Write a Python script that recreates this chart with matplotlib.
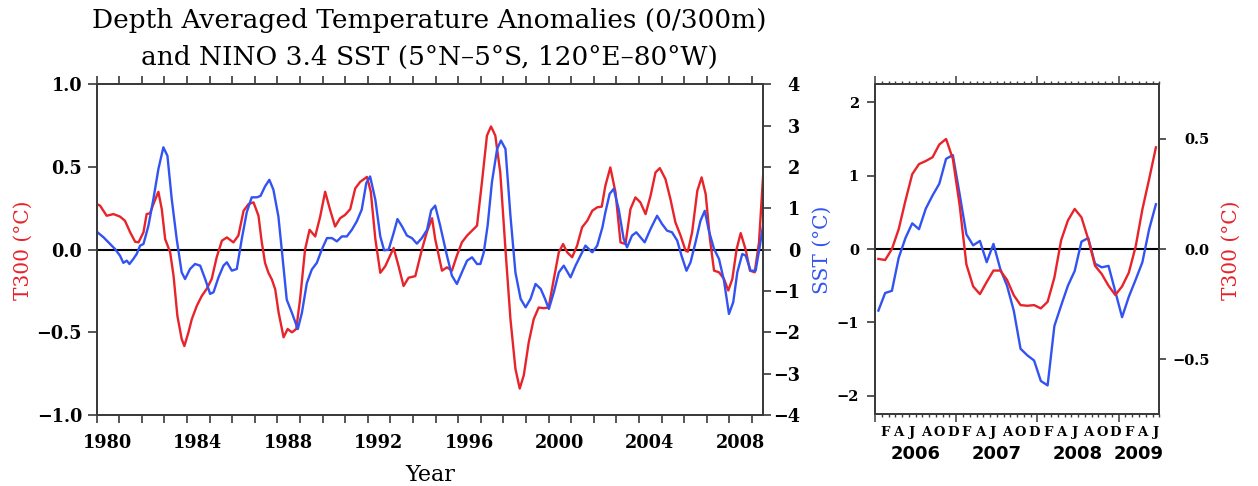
import numpy as np
import matplotlib
matplotlib.use("Agg")
import matplotlib.pyplot as plt

# cores das curvas
vermelho = "#e8232a"
azul = "#3253f2"
moldura = "#3a3a3a"

# ---------------- dados do painel longo (1980-2009) ----------------
anos_t300 = [1980.00, 1980.15, 1980.44, 1980.74, 1981.03, 1981.25, 1981.48, 1981.70, 1981.85,
             1982.07, 1982.21, 1982.36, 1982.51, 1982.73, 1982.88, 1983.03, 1983.25, 1983.40,
             1983.57, 1983.76, 1983.88, 1984.06, 1984.21, 1984.43, 1984.65, 1984.87, 1985.09,
             1985.31, 1985.54, 1985.76, 1986.05, 1986.27, 1986.50, 1986.72, 1986.94, 1987.16,
             1987.30, 1987.45, 1987.60, 1987.75, 1987.90, 1988.05, 1988.27, 1988.45, 1988.64,
             1988.83, 1989.00, 1989.22, 1989.42, 1989.67, 1989.89, 1990.11, 1990.33, 1990.55,
             1990.77, 1990.99, 1991.22, 1991.44, 1991.66, 1991.96, 1992.13, 1992.33, 1992.55,
             1992.77, 1993.14, 1993.36, 1993.58, 1993.80, 1994.10, 1994.39, 1994.62, 1994.84,
             1994.98, 1995.28, 1995.50, 1995.72, 1995.94, 1996.16, 1996.39, 1996.61, 1996.83,
             1997.05, 1997.27, 1997.45, 1997.64, 1997.86, 1998.09, 1998.31, 1998.53, 1998.72,
             1998.90, 1999.12, 1999.34, 1999.56, 1999.78, 2000.00, 2000.23, 2000.45, 2000.64,
             2000.82, 2001.04, 2001.26, 2001.48, 2001.71, 2001.93, 2002.15, 2002.35, 2002.51,
             2002.73, 2002.96, 2003.18, 2003.40, 2003.62, 2003.84, 2004.06, 2004.29, 2004.51,
             2004.73, 2004.92, 2005.17, 2005.39, 2005.61, 2005.84, 2006.06, 2006.16, 2006.35,
             2006.58, 2006.77, 2006.95, 2007.14, 2007.32, 2007.54, 2007.76, 2007.95, 2008.13,
             2008.32, 2008.50, 2008.72, 2008.91, 2009.12, 2009.31, 2009.50]
t300 = [0.276, 0.266, 0.205, 0.215, 0.200, 0.175, 0.105, 0.048, 0.044,
        0.105, 0.215, 0.220, 0.276, 0.350, 0.245, 0.064, -0.016, -0.157,
        -0.400, -0.540, -0.583, -0.500, -0.420, -0.340, -0.280, -0.237, -0.177,
        -0.046, 0.054, 0.074, 0.044, 0.085, 0.235, 0.276, 0.286, 0.205,
        0.050, -0.080, -0.140, -0.180, -0.240, -0.380, -0.530, -0.480, -0.500,
        -0.480, -0.300, 0.000, 0.120, 0.080, 0.200, 0.350, 0.240, 0.140,
        0.190, 0.210, 0.245, 0.370, 0.410, 0.440, 0.350, 0.065, -0.140,
        -0.100, 0.010, -0.100, -0.220, -0.170, -0.160, 0.000, 0.110, 0.190,
        0.064, -0.127, -0.107, -0.127, -0.036, 0.044, 0.085, 0.115, 0.145,
        0.410, 0.690, 0.745, 0.690, 0.467, 0.000, -0.420, -0.720, -0.840,
        -0.760, -0.560, -0.420, -0.350, -0.354, -0.350, -0.177, -0.016, 0.034,
        -0.016, -0.046, 0.024, 0.135, 0.175, 0.235, 0.256, 0.260, 0.386,
        0.497, 0.346, 0.044, 0.034, 0.245, 0.316, 0.286, 0.215, 0.326,
        0.467, 0.493, 0.427, 0.306, 0.165, 0.085, -0.006, -0.012, 0.105,
        0.356, 0.437, 0.336, 0.064, -0.127, -0.137, -0.177, -0.247, -0.177,
        0.004, 0.100, 0.000, -0.127, -0.137, 0.044, 0.467]

anos_sst = [1980.00, 1980.30, 1980.59, 1980.81, 1981.03, 1981.18, 1981.33, 1981.45, 1981.62,
            1981.77, 1981.92, 1982.07, 1982.29, 1982.51, 1982.73, 1982.95, 1983.13, 1983.32,
            1983.54, 1983.76, 1983.91, 1984.13, 1984.35, 1984.58, 1984.80, 1985.02, 1985.17,
            1985.39, 1985.61, 1985.76, 1985.98, 1986.20, 1986.42, 1986.64, 1986.86, 1987.09,
            1987.25, 1987.45, 1987.64, 1987.82, 1988.04, 1988.19, 1988.41, 1988.64, 1988.90,
            1989.08, 1989.30, 1989.52, 1989.74, 1989.96, 1990.19, 1990.41, 1990.63, 1990.85,
            1991.07, 1991.29, 1991.51, 1991.73, 1991.93, 1992.10, 1992.33, 1992.55, 1992.72,
            1992.92, 1993.14, 1993.31, 1993.51, 1993.73, 1993.95, 1994.17, 1994.39, 1994.62,
            1994.80, 1994.98, 1995.20, 1995.50, 1995.72, 1995.94, 1996.16, 1996.39, 1996.61,
            1996.83, 1996.98, 1997.13, 1997.30, 1997.49, 1997.72, 1997.89, 1998.09, 1998.31,
            1998.53, 1998.76, 1998.98, 1999.20, 1999.42, 1999.65, 1999.84, 2000.01, 2000.23,
            2000.45, 2000.67, 2000.97, 2001.19, 2001.41, 2001.63, 2001.93, 2002.15, 2002.38,
            2002.51, 2002.70, 2002.88, 2003.10, 2003.32, 2003.47, 2003.69, 2003.88, 2004.06,
            2004.25, 2004.51, 2004.80, 2005.02, 2005.24, 2005.46, 2005.69, 2005.88, 2006.10,
            2006.28, 2006.50, 2006.72, 2006.91, 2007.09, 2007.32, 2007.54, 2007.76, 2007.98,
            2008.17, 2008.35, 2008.57, 2008.72, 2008.94, 2009.16, 2009.35, 2009.50]
sst = [0.435, 0.300, 0.137, 0.016, -0.145, -0.320, -0.266, -0.347, -0.226,
       -0.105, 0.097, 0.137, 0.580, 1.226, 1.950, 2.476, 2.270, 1.226,
       0.258, -0.548, -0.710, -0.468, -0.347, -0.387, -0.710, -1.070, -1.030,
       -0.670, -0.387, -0.306, -0.508, -0.468, 0.258, 0.903, 1.266, 1.266,
       1.300, 1.530, 1.690, 1.450, 0.806, 0.000, -1.210, -1.530, -1.920,
       -1.530, -0.806, -0.480, -0.320, 0.000, 0.280, 0.280, 0.200, 0.320,
       0.320, 0.480, 0.685, 0.970, 1.610, 1.770, 1.210, 0.320, -0.016,
       0.000, 0.400, 0.740, 0.565, 0.340, 0.280, 0.145, 0.280, 0.480,
       0.950, 1.065, 0.580, -0.145, -0.630, -0.830, -0.550, -0.266, -0.185,
       -0.347, -0.347, -0.065, 0.580, 1.630, 2.435, 2.640, 2.435, 0.820,
       -0.550, -1.190, -1.395, -1.190, -0.830, -0.950, -1.190, -1.435, -1.030,
       -0.550, -0.387, -0.670, -0.387, -0.145, 0.097, -0.065, 0.097, 0.540,
       0.900, 1.350, 1.470, 0.980, 0.260, 0.056, 0.340, 0.420, 0.300,
       0.177, 0.500, 0.820, 0.620, 0.460, 0.420, 0.220, -0.145, -0.510,
       -0.306, 0.177, 0.700, 0.940, 0.460, 0.016, -0.226, -0.750, -1.556,
       -1.270, -0.548, -0.105, -0.145, -0.510, -0.510, 0.097, 0.620]

rotulos_anos = ["1980", "1984", "1988", "1992", "1996", "2000", "2004", "2008"]

# ---------------- dados do painel mensal (jan/2006 - jun/2009) ----------------
sst_mensal = [-0.84, -0.60, -0.57, -0.12, 0.15, 0.35, 0.27, 0.55, 0.73, 0.89, 1.23, 1.28,
              0.75, 0.20, 0.05, 0.11, -0.18, 0.07, -0.27, -0.50, -0.84, -1.36, -1.45, -1.52,
              -1.80, -1.86, -1.05, -0.77, -0.50, -0.30, 0.10, 0.15, -0.20, -0.25, -0.23, -0.58,
              -0.93, -0.65, -0.42, -0.18, 0.27, 0.61]
t300_mensal = [-0.045, -0.050, 0.000, 0.090, 0.220, 0.340, 0.386, 0.400, 0.417, 0.475, 0.500, 0.410,
               0.200, -0.070, -0.170, -0.205, -0.150, -0.098, -0.098, -0.140, -0.210, -0.255, -0.258, -0.255,
               -0.270, -0.240, -0.130, 0.040, 0.130, 0.182, 0.144, 0.045, -0.076, -0.114, -0.167, -0.209,
               -0.170, -0.107, 0.010, 0.180, 0.318, 0.462]
letras_meses = ["F", "A", "J", "A", "O", "D", "F", "A", "J", "A", "O", "D",
                "F", "A", "J", "A", "O", "D", "F", "A", "J"]
rotulos_mensal = ["2006", "2007", "2008", "2009"]
pos_rotulos_mensal = [6, 18, 30, 39]

meses = np.arange(len(sst_mensal)) + 0.5


fig = plt.figure(figsize=(12.58, 4.86), dpi=100)
W, H = 1258, 486

def caixa(x0, x1, y0, y1):
    # converte pixels (origem em cima) em fracao da figura
    return [x0 / W, 1 - y1 / H, (x1 - x0) / W, (y1 - y0) / H]

fonte_num = dict(family="DejaVu Serif", weight="bold")


# ================= PAINEL 1 =================
ax1 = fig.add_axes(caixa(96.7, 763.3, 84.3, 415))
ax1.axhline(0, color="black", lw=1.5, zorder=1)
ax1.plot(anos_t300, t300, color=vermelho, lw=1.7, zorder=3)
ax1.set_xlim(1980, 2009.5)
ax1.set_ylim(-1, 1)

ax1b = ax1.twinx()
ax1b.plot(anos_sst, sst, color=azul, lw=1.7)
ax1b.set_ylim(-4, 4)

# ticks em todo ano (sem rotulo); rotulos ficam num tick "minor" sem traco, um pouco a direita
ax1.set_xticks(range(1980, 2010))
ax1.set_xticklabels([])
ax1.set_xticks([int(a) + 0.478 for a in rotulos_anos], minor=True)
ax1.set_xticklabels(rotulos_anos, minor=True, fontsize=12.7, **fonte_num)

ax1.set_yticks([-1, -0.5, 0, 0.5, 1])
ax1.set_yticklabels(["\u22121.0", "\u22120.5", "0.0", "0.5", "1.0"], fontsize=12.7, **fonte_num)
ax1b.set_yticks(range(-4, 5))
ax1b.set_yticklabels([str(v).replace("-", "\u2212") for v in range(-4, 5)], fontsize=12.7, **fonte_num)

ax1.tick_params(axis="x", which="major", top=True, direction="out", length=5.5, width=1.2, color=moldura)
ax1.tick_params(axis="x", which="minor", top=False, length=0, pad=13.5)
ax1.tick_params(axis="y", direction="out", length=6.5, width=1.2, pad=4, color=moldura)
ax1b.tick_params(axis="y", direction="out", length=5.5, width=1.2, pad=21, color=moldura)
for r in ax1b.get_yticklabels():
    r.set_horizontalalignment("right")

for a in (ax1, ax1b):
    for s in a.spines.values():
        s.set_color(moldura)
        s.set_linewidth(1.3)


# ================= PAINEL 2 =================
ax2 = fig.add_axes(caixa(875, 1159.3, 84, 414))
ax2.axhline(0, color="black", lw=1.5, zorder=1)
ax2.plot(meses, sst_mensal, color=azul, lw=1.7, zorder=3)
ax2.set_xlim(0, 42)
ax2.set_ylim(-2.25, 2.25)

ax2b = ax2.twinx()
ax2b.plot(meses, t300_mensal, color=vermelho, lw=1.7)
ax2b.set_ylim(-0.75, 0.75)

ax2.set_yticks([-2, -1, 0, 1, 2])
ax2.set_yticklabels(["\u22122", "\u22121", "0", "1", "2"], fontsize=10.5, **fonte_num)
ax2b.set_yticks([-0.5, 0, 0.5])
ax2b.set_yticklabels(["\u22120.5", "0.0", "0.5"], fontsize=10.5, **fonte_num)
ax2.tick_params(axis="y", direction="out", length=5.8, width=1.2, pad=5.8, color=moldura)
ax2b.tick_params(axis="y", direction="out", length=5.3, width=1.2, pad=31, color=moldura)
for r in ax2b.get_yticklabels():
    r.set_horizontalalignment("right")

ax2.set_xticks([0, 12, 24, 36])
ax2.set_xticks(np.arange(0, 43), minor=True)
ax2.set_xticklabels([])
ax2.tick_params(axis="x", which="major", top=True, direction="out", length=5.5, width=1.1, color=moldura)
ax2.tick_params(axis="x", which="minor", top=True, direction="out", length=2.4, width=1.0, color=moldura)

tr = ax2.get_xaxis_transform()
for k, letra in enumerate(letras_meses):
    ax2.text(1.5 + 2 * k, (414 - 436) / 330, letra, transform=tr, ha="center", va="baseline",
             fontsize=9.5, **fonte_num)
for rot, p in zip(rotulos_mensal, pos_rotulos_mensal):
    ax2.text(p, (414 - 459) / 330, rot, transform=tr, ha="center", va="baseline",
             fontsize=13, family="DejaVu Sans", weight="bold")

for a in (ax2, ax2b):
    for s in a.spines.values():
        s.set_color(moldura)
        s.set_linewidth(1.3)


# ================= textos =================
fig.text(429 / W, 1 - 28 / H, "Depth Averaged Temperature Anomalies (0/300m)",
         ha="center", va="baseline", fontsize=19, family="DejaVu Serif")
fig.text(429 / W, 1 - 65 / H, "and NINO 3.4 SST (5°N\u20135°S, 120°E\u201380°W)",
         ha="center", va="baseline", fontsize=19, family="DejaVu Serif")

fig.text(23 / W, 1 - 250 / H, "T300 (°C)", rotation=90, color=vermelho, ha="center", va="center",
         fontsize=14.5, family="DejaVu Serif")
fig.text(822 / W, 1 - 250 / H, "SST (°C)", rotation=90, color=azul, ha="center", va="center",
         fontsize=14.5, family="DejaVu Serif")
fig.text(1231 / W, 1 - 250 / H, "T300 (°C)", rotation=90, color=vermelho, ha="center", va="center",
         fontsize=14.5, family="DejaVu Serif")
fig.text(430 / W, 1 - 481 / H, "Year", ha="center", va="baseline", fontsize=16, family="DejaVu Serif")

fig.savefig("out.png", dpi=100, facecolor="white")
